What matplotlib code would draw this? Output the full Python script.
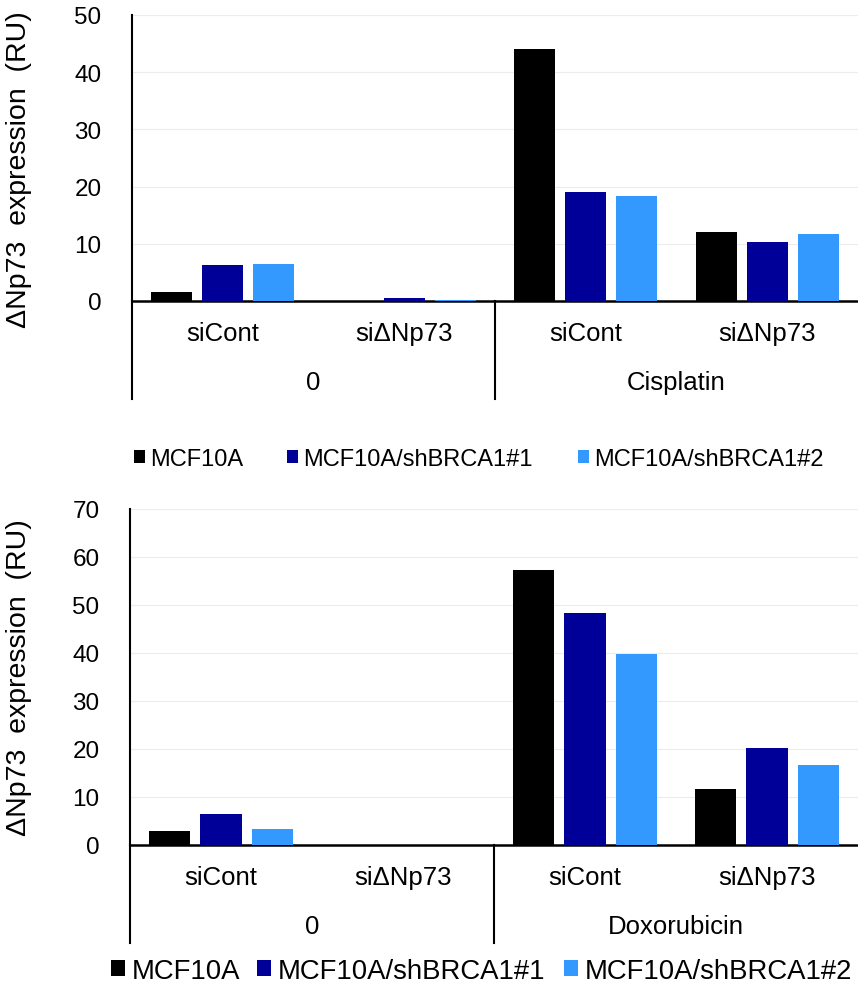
import matplotlib
matplotlib.use("Agg")
import numpy as np
import matplotlib.pyplot as plt
from matplotlib.patches import Patch

plt.rcParams["font.family"] = ["Liberation Sans", "DejaVu Sans"]

# ── data ──────────────────────────────────────
series = ["MCF10A", "MCF10A/shBRCA1#1", "MCF10A/shBRCA1#2"]
colors = ["#000000", "#000099", "#3399FF"]
sirna = ["siCont", "si\u0394Np73", "siCont", "si\u0394Np73"]

cis_groups = ["0", "Cisplatin"]
cis_mcf10a = [1.6, 0.0, 44.0, 12.1]
cis_sh1 = [6.3, 0.5, 19.1, 10.3]
cis_sh2 = [6.5, 0.2, 18.4, 11.7]

dox_groups = ["0", "Doxorubicin"]
dox_mcf10a = [2.9, 0.05, 57.2, 11.7]
dox_sh1 = [6.4, 0.05, 48.4, 20.3]
dox_sh2 = [3.3, 0.05, 39.7, 16.7]

W, H = 858, 987
fig = plt.figure(figsize=(W / 100, H / 100), dpi=100)


def px_axes(x0, x1, ytop, ybot):
    return fig.add_axes([x0 / W, 1 - ybot / H, (x1 - x0) / W, (ybot - ytop) / H])


def draw_panel(ax, vals, groups, ymax, yzero_px, ytop_px):
    x = np.arange(len(sirna))
    bw, off = 0.226, 0.281
    for i, (v, c) in enumerate(zip(vals, colors)):
        ax.bar(x + (i - 1) * off, v, bw, color=c, zorder=3)
    ax.set_xlim(-0.5, 3.5)
    ax.set_ylim(0, ymax)
    ax.set_yticks(np.arange(0, ymax + 1, 10))
    ax.set_xticks([])
    ax.tick_params(axis="y", length=0, pad=22, labelsize=17.5)
    ax.grid(axis="y", color="#ececec", linewidth=0.8, zorder=0)
    for s in ["top", "right"]:
        ax.spines[s].set_visible(False)
    ax.spines["left"].set_linewidth(1.5)
    ax.spines["bottom"].set_linewidth(1.8)

    # multi-level category axis below the plot
    ppu = (yzero_px - ytop_px) / ymax  # pixels per unit
    def yv(px_below):
        return -px_below / ppu
    ax.plot([-0.5, -0.5], [0, yv(98)], color="black", lw=1.5, clip_on=False)
    ax.plot([1.5, 1.5], [0, yv(98)], color="black", lw=1.5, clip_on=False)
    for xi, lab in zip(x, sirna):
        ax.text(xi, yv(32), lab, ha="center", va="center", fontsize=18.5)
    for gi, g in enumerate(groups):
        ax.text(0.5 + 2 * gi, yv(81), g, ha="center", va="center", fontsize=18.5)


def legend_row(xs, y, size, hlen):
    # one legend per entry so the columns sit where the reference has them
    for xpx, name, c in zip(xs, series, colors):
        fig.legend([Patch(facecolor=c, edgecolor="none")], [name], loc="center left",
                   bbox_to_anchor=(xpx / W, 1 - y / H), frameon=False, fontsize=size,
                   handlelength=hlen, handleheight=hlen, handletextpad=0.25,
                   borderpad=0, borderaxespad=0)


ax1 = px_axes(132, 858, 16, 302)
draw_panel(ax1, [cis_mcf10a, cis_sh1, cis_sh2], cis_groups, 50, 302, 16)

ax2 = px_axes(130, 858, 510, 846)
draw_panel(ax2, [dox_mcf10a, dox_sh1, dox_sh2], dox_groups, 70, 846, 510)

ylabel = "\u0394Np73  expression  (RU)"
fig.text(19 / W, 1 - 170 / H, ylabel, rotation=90, ha="center", va="center", fontsize=20.5)
fig.text(19 / W, 1 - 678 / H, ylabel, rotation=90, ha="center", va="center", fontsize=20.5)

legend_row([134, 287, 578], 460, 17, 0.45)
legend_row([111, 257, 564], 972, 19.8, 0.5)

plt.savefig("out.png", dpi=100)
